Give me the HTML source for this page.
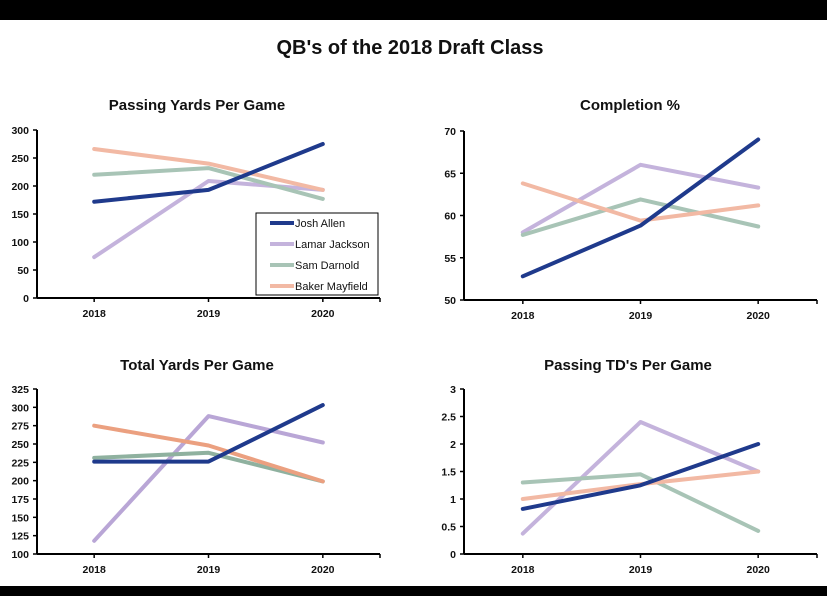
<!DOCTYPE html>
<html><head><meta charset="utf-8">
<style>
html,body{margin:0;padding:0;background:#fff;}
body{width:827px;height:596px;overflow:hidden;position:relative;font-family:"Liberation Sans",Arial,sans-serif;}
svg text{font-family:"Liberation Sans",Arial,sans-serif;}
</style></head>
<body>
<svg id="chart" width="827" height="596" viewBox="0 0 827 596" xmlns="http://www.w3.org/2000/svg">
<rect x="0" y="0" width="827" height="596" fill="#fff"/>
<rect x="0" y="0" width="827" height="20" fill="#000"/>
<rect x="0" y="586" width="827" height="10" fill="#000"/>
<text x="410" y="54" text-anchor="middle" font-size="20" font-weight="bold" fill="#111">QB's of the 2018 Draft Class</text>
</svg>
<script>
const categories = ["2018","2019","2020"];
const players = ["Josh Allen","Lamar Jackson","Sam Darnold","Baker Mayfield"];
const passYards = [[172,193,275],[73,209,193],[220,232,177],[266,240,193]];
const completion = [[52.8,58.8,69.0],[58.0,66.0,63.3],[57.7,61.9,58.7],[63.8,59.4,61.2]];
const totalYards = [[226,226,303],[118,288,252],[231,238,199],[275,248,199]];
const passTDs = [[0.82,1.25,2.0],[0.37,2.4,1.5],[1.3,1.45,0.42],[1.0,1.27,1.5]];
const passTicks = [0,50,100,150,200,250,300];
const compTicks = [50,55,60,65,70];
const totalTicks = [100,125,150,175,200,225,250,275,300,325];
const tdTicks = [0,0.5,1,1.5,2,2.5,3];
const tdTickLabels = ["0","0.5","1","1.5","2","2.5","3"];

const colorsA = ["#1f3a8c","#c4b3dc","#a8c4b6","#f2b9a4"];
const colorsB = ["#1f3a8c","#b9a6d6","#8fb19f","#eba080"];
const NS = "http://www.w3.org/2000/svg";
const svg = document.getElementById("chart");
function mk(tag, attrs, parent){const e=document.createElementNS(NS,tag);for(const k in attrs)e.setAttribute(k,attrs[k]);(parent||svg).appendChild(e);return e;}

function panel(name, title, titleX, titleY, x0, x1, yTop, yBot, ticks, labels, data, colors){
  const g = mk("g",{});
  
  
  const t = mk("text",{x:titleX,y:titleY,"text-anchor":"middle","font-size":"15","font-weight":"bold",fill:"#111"},g);
  t.textContent = title;
  
  
  const lo = ticks[0], hi = ticks[ticks.length-1];
  const yS = v => yBot - (v-lo)/(hi-lo)*(yBot-yTop);
  const slot = (x1-x0)/categories.length;
  const xS = i => x0 + slot*(i+0.5);
  ticks.forEach((v,i)=>{
    const tk = mk("line",{x1:x0-4,x2:x0,y1:yS(v),y2:yS(v),stroke:"#000","stroke-width":"1.5"},g);
    
    
    const lb = mk("text",{x:x0-8,y:yS(v)+4,"text-anchor":"end","font-size":"10.5","font-weight":"bold",fill:"#111"},g);
    lb.textContent = labels ? labels[i] : String(v);
    
    
  });
  categories.forEach((c,i)=>{
    const tk = mk("line",{x1:xS(i),x2:xS(i),y1:yBot,y2:yBot+4,stroke:"#000","stroke-width":"1.5"},g);
    
    
    const lb = mk("text",{x:xS(i),y:yBot+19,"text-anchor":"middle","font-size":"10.5","font-weight":"bold",fill:"#111"},g);
    lb.textContent = c;
    
    
  });
  const endTick = mk("line",{x1:x1,x2:x1,y1:yBot,y2:yBot+4,stroke:"#000","stroke-width":"1.5"},g);
  
  
  const ya = mk("line",{x1:x0,x2:x0,y1:yTop,y2:yBot,stroke:"#000","stroke-width":"2"},g);
  
  
  const xa = mk("line",{x1:x0,x2:x1,y1:yBot,y2:yBot,stroke:"#000","stroke-width":"2"},g);
  
  
  // draw in order: Jackson, Darnold, Baker, Allen on top
  [1,2,3,0].forEach(s=>{
    const pts = data[s].map((v,i)=>xS(i).toFixed(1)+","+yS(v).toFixed(1)).join(" ");
    const pl = mk("polyline",{points:pts,fill:"none",stroke:colors[s],"stroke-width":"4","stroke-linejoin":"round","stroke-linecap":"round"},g);
    
    
  });
}

panel("passing-yards-chart","Passing Yards Per Game",197,110,37,380,130,298,passTicks,null,passYards,colorsA);
panel("completion-chart","Completion %",630,110,464,817,131,300,compTicks,null,completion,colorsA);
panel("total-yards-chart","Total Yards Per Game",197,370,37,380,389,554,totalTicks,null,totalYards,colorsB);
panel("passing-tds-chart","Passing TD's Per Game",628,370,464,817,389,554,tdTicks,tdTickLabels,passTDs,colorsA);

// legend
const lg = mk("g",{});


mk("rect",{x:256,y:213,width:122,height:82,fill:"#fff",stroke:"#000","stroke-width":"1"},lg);
players.forEach((p,i)=>{
  const y = 223 + i*21;
  const e = mk("g",{},lg);
  
  
  mk("line",{x1:270,x2:294,y1:y,y2:y,stroke:colorsA[i],"stroke-width":"4"},e);
  const t = mk("text",{x:295,y:y+4,"font-size":"11",fill:"#111"},e);
  t.textContent = p;
});
</script>
</body></html>
